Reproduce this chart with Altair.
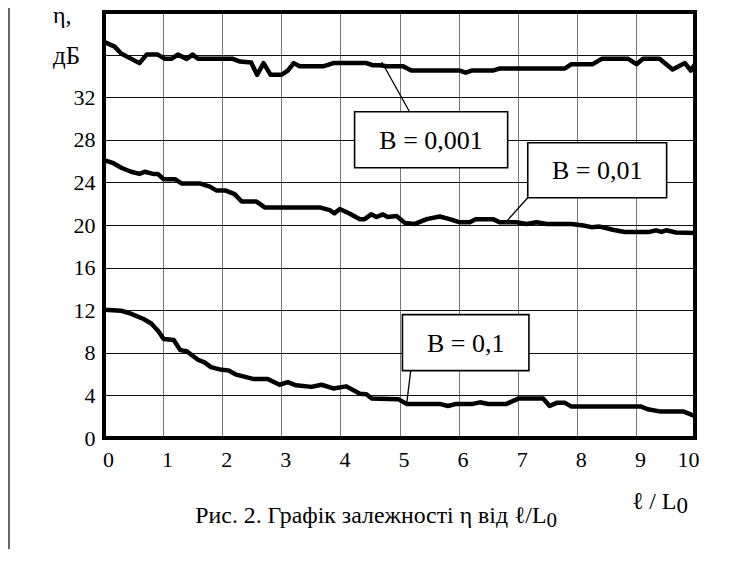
import altair as alt
import pandas as pd

FONT = "Liberation Serif"

# ---- curve data (x = l/L0, y = eta, dB) ----
x1 = [0.0, 0.18, 0.29, 0.6, 0.72, 0.91, 1.03, 1.14, 1.25, 1.40, 1.50, 1.59, 2.18, 2.30, 2.49, 2.59,
      2.70, 2.82, 3.0, 3.11, 3.21, 3.31, 3.71, 3.88, 4.44, 4.55, 4.67, 4.78, 5.06, 5.2, 6.02, 6.12,
      6.22, 6.58, 6.70, 7.80, 7.91, 8.27, 8.42, 8.87, 9.01, 9.12, 9.40, 9.62, 9.83, 9.93, 10.0]
y1 = [37.2, 36.75, 36.1, 35.2, 36.0, 36.0, 35.6, 35.6, 36.0, 35.6, 36.0, 35.6, 35.6, 35.35, 35.25, 34.1,
      35.2, 34.1, 34.1, 34.5, 35.2, 34.9, 34.9, 35.2, 35.2, 35.0, 35.0, 34.9, 34.9, 34.5, 34.5, 34.3,
      34.5, 34.5, 34.7, 34.7, 35.1, 35.1, 35.6, 35.6, 35.1, 35.6, 35.6, 34.6, 35.2, 34.5, 35.1]

x2 = [0.0, 0.16, 0.30, 0.46, 0.6, 0.69, 0.83, 0.91, 1.01, 1.20, 1.31, 1.62, 1.79, 1.90, 2.05, 2.21,
      2.33, 2.58, 2.72, 3.65, 3.82, 3.90, 3.99, 4.16, 4.33, 4.41, 4.52, 4.61, 4.72, 4.80, 4.95, 5.09,
      5.26, 5.46, 5.68, 5.85, 6.02, 6.19, 6.29, 6.58, 6.70, 6.98, 7.15, 7.32, 7.49, 7.91, 8.11, 8.25,
      8.39, 8.61, 8.81, 9.23, 9.34, 9.43, 9.51, 9.68, 10.0]
y2 = [26.1, 25.8, 25.35, 25.0, 24.8, 25.0, 24.8, 24.8, 24.3, 24.3, 23.9, 23.9, 23.6, 23.25, 23.25, 22.9,
      22.2, 22.2, 21.65, 21.65, 21.4, 21.1, 21.5, 21.05, 20.55, 20.55, 21.0, 20.75, 21.0, 20.75, 20.85, 20.2,
      20.1, 20.55, 20.8, 20.55, 20.25, 20.25, 20.55, 20.55, 20.25, 20.25, 20.1, 20.25, 20.1, 20.1, 19.95, 19.8,
      19.85, 19.55, 19.35, 19.35, 19.5, 19.35, 19.5, 19.3, 19.25]

x3 = [0.0, 0.29, 0.44, 0.66, 0.80, 0.91, 1.01, 1.18, 1.29, 1.40, 1.59, 1.70, 1.81, 1.99, 2.10, 2.24,
      2.52, 2.77, 2.97, 3.11, 3.25, 3.51, 3.68, 3.88, 4.10, 4.33, 4.44, 4.53, 4.98, 5.12, 5.68, 5.82,
      5.96, 6.24, 6.36, 6.50, 6.81, 7.01, 7.43, 7.54, 7.66, 7.80, 7.91, 9.09, 9.20, 9.40, 9.80, 10.0]
y3 = [12.05, 11.95, 11.7, 11.2, 10.75, 10.1, 9.3, 9.2, 8.25, 8.15, 7.35, 7.1, 6.65, 6.4, 6.35, 5.95,
      5.55, 5.55, 5.0, 5.25, 4.95, 4.8, 5.0, 4.65, 4.85, 4.15, 4.1, 3.7, 3.65, 3.2, 3.2, 3.0,
      3.2, 3.2, 3.35, 3.2, 3.2, 3.7, 3.7, 3.0, 3.3, 3.3, 2.95, 2.95, 2.7, 2.5, 2.5, 2.05]

series = ["B = 0,001", "B = 0,01", "B = 0,1"]

# ---- annotation boxes (data units) ----
box_x0 = [4.24, 7.17, 5.05]
box_x1 = [6.83, 9.52, 7.19]
box_y0 = [25.38, 22.56, 6.33]
box_y1 = [30.63, 27.72, 11.58]
lead_x0 = [5.17, 7.17, 5.19]
lead_y0 = [30.63, 22.56, 6.33]
lead_x1 = [4.70, 6.81, 5.12]
lead_y1 = [35.3, 20.34, 3.14]

x_ticks = list(range(0, 11))
y_ticks = list(range(0, 41, 4))

frames = []
for name, xs, ys in zip(series, [x1, x2, x3], [y1, y2, y3]):
    frames.append(pd.DataFrame({"x": xs, "y": ys, "series": name}))
lines_df = pd.concat(frames, ignore_index=True)

ann_df = pd.DataFrame({
    "label": series,
    "x0": box_x0, "x1": box_x1, "y0": box_y0, "y1": box_y1,
    "lx0": lead_x0, "ly0": lead_y0, "lx1": lead_x1, "ly1": lead_y1,
})
ann_df["xc"] = (ann_df["x0"] + ann_df["x1"]) / 2
ann_df["yc"] = (ann_df["y0"] + ann_df["y1"]) / 2

W, H = 591, 426

xscale = alt.Scale(domain=[0, 10], nice=False, zero=False)
yscale = alt.Scale(domain=[0, 40], nice=False, zero=False)

xaxis = alt.Axis(
    values=x_ticks, title=None, ticks=False, domain=False, grid=True, format="d",
    gridColor="#777", gridWidth=1,
    labelAlign={"condition": {"test": "datum.value == 10", "value": "right"}, "value": "center"},
    labelOffset=4, labelPadding=11, labelFont=FONT, labelFontSize=22, labelColor="black",
)
yaxis = alt.Axis(
    values=y_ticks, title=None, ticks=False, domain=False, grid=True, format="d",
    gridColor="#111", gridWidth=1,
    labelExpr="datum.value <= 32 ? datum.label : ''",
    labelPadding=9, labelFont=FONT, labelFontSize=22, labelColor="black",
)

lines = alt.Chart(lines_df).mark_line(
    color="black", strokeWidth=4.5, strokeJoin="round", clip=True
).encode(
    x=alt.X("x:Q", scale=xscale, axis=xaxis),
    y=alt.Y("y:Q", scale=yscale, axis=yaxis),
    detail="series:N",
)

leaders = alt.Chart(ann_df).mark_rule(color="black", strokeWidth=1.3).encode(
    x="lx0:Q", y="ly0:Q", x2="lx1:Q", y2="ly1:Q"
)
boxes = alt.Chart(ann_df).mark_rect(fill="white", stroke="black", strokeWidth=1.6).encode(
    x="x0:Q", x2="x1:Q", y="y0:Q", y2="y1:Q"
)
box_text = alt.Chart(ann_df).mark_text(
    font=FONT, fontSize=26, color="black", baseline="middle", align="center", dy=1
).encode(x="xc:Q", y="yc:Q", text="label:N")

frame = alt.Chart(pd.DataFrame({"a": [0]})).mark_rect(
    fillOpacity=0, stroke="black", strokeWidth=4
).encode(x=alt.value(0), x2=alt.value(W), y=alt.value(0), y2=alt.value(H))


def label(txt, px, py, size=20, align="left", baseline="alphabetic", color="black"):
    return alt.Chart(pd.DataFrame({"t": [txt]})).mark_text(
        font=FONT, fontSize=size, align=align, baseline=baseline, color=color
    ).encode(x=alt.value(px), y=alt.value(py), text="t:N")


# plot origin is at page (104, 12)
eta = label("η,", -51, 11, size=24)
db = label("дБ", -51, 51.5, size=25)
xt1 = label("ℓ / L", 572.5, 496.5, size=24, align="right")
xt2 = label("0", 572.5, 500.7, size=23)
cap1 = label("Рис. 2. Графік залежності η від ℓ/L", 442.5, 510.7, size=23.8, align="right")
cap2 = label("0", 442.5, 514.5, size=21)

border = alt.Chart(pd.DataFrame({"a": [0]})).mark_rule(color="#333", strokeWidth=1.5).encode(
    x=alt.value(-95), y=alt.value(-4), y2=alt.value(537)
)

chart = alt.layer(
    lines, leaders, boxes, box_text, frame, eta, db, xt1, xt2, cap1, cap2, border
).properties(
    width=W, height=H,
    autosize=alt.AutoSizeParams(type="none"),
    padding={"left": 96, "top": 4, "right": 30, "bottom": 111},
).configure(
    font=FONT, background="white"
).configure_view(
    strokeWidth=0
)

chart.save("out.html", embed_options={"renderer": "svg", "actions": False})
